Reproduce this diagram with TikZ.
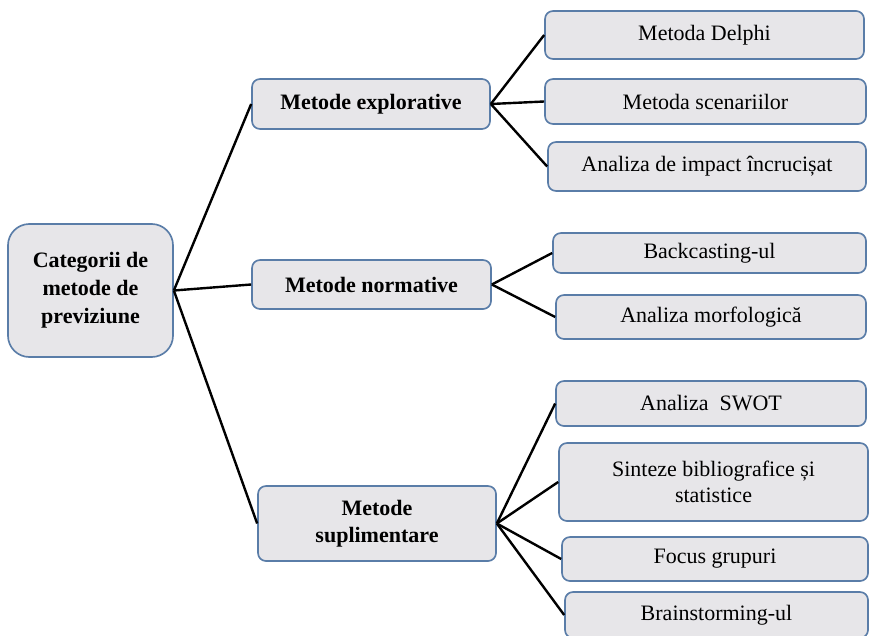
\documentclass[tikz,border=0pt]{standalone}
\usepackage{fontspec}
\setmainfont{Liberation Serif}
\definecolor{boxfill}{HTML}{E7E6E9}
\definecolor{boxline}{HTML}{5A7DA8}

\begin{document}
\begin{tikzpicture}[x=0.75pt, y=-0.75pt,
   box/.style={draw=boxline, fill=boxfill, line width=1.25pt, rounded corners=6pt,
      inner sep=0pt, align=center, font=\fontsize{16.5}{20}\selectfont},
   groupbox/.style={box, font=\fontsize{16.5}{20}\selectfont\bfseries},
   boxsize/.style 2 args={minimum width=#1*0.75pt, minimum height=#2*0.75pt},
   link/.style={line width=1.8pt}]
   \useasboundingbox (0,0) rectangle (870,635);

   % wurzel
   \node [groupbox, boxsize={165}{133}, rounded corners=16pt,
      font=\fontsize{16.5}{21}\selectfont\bfseries] (root) at (90.5, 290.5)
      {Categorii de\\metode de\\previziune};

   % gruppen
   \node [groupbox, boxsize={238}{50}] (explor) at (371, 104) {Metode explorative};
   \node [groupbox, boxsize={239}{49}] (norm) at (371.5, 284.5) {Metode normative};
   \node [groupbox, boxsize={238}{75}] (supl) at (377, 523.5) {Metode\\suplimentare};

   % metoden
   \node [box, boxsize={319}{48}] (delphi) at (704.5, 35) {Metoda Delphi};
   \node [box, boxsize={321}{45}] (scen) at (705.5, 101.5) {Metoda scenariilor};
   \node [box, boxsize={318}{49}] (impact) at (707, 166.5) {Analiza de impact încrucișat};

   \node [box, boxsize={313}{40}] (backc) at (709.5, 253) {Backcasting-ul};
   \node [box, boxsize={310}{44}] (morf) at (711, 317) {Analiza morfologică};

   \node [box, boxsize={310}{45}] (swot) at (711, 403.5) {Analiza\ \ SWOT};
   \node [box, boxsize={309}{78}] (sint) at (713.5, 482) {Sinteze bibliografice și\\statistice};
   \node [box, boxsize={306}{44}] (focus) at (715, 559) {Focus grupuri};
   \node [box, boxsize={303}{46}] (brain) at (716.5, 615) {Brainstorming-ul};

   % linien
   \draw [link] (root.east) -- (explor.west);
   \draw [link] (root.east) -- (norm.west);
   \draw [link] (root.east) -- (supl.west);

   \draw [link] (explor.east) -- (delphi.west);
   \draw [link] (explor.east) -- (scen.west);
   \draw [link] (explor.east) -- (impact.west);

   \draw [link] (norm.east) -- (backc.west);
   \draw [link] (norm.east) -- (morf.west);

   \draw [link] (supl.east) -- (swot.west);
   \draw [link] (supl.east) -- (sint.west);
   \draw [link] (supl.east) -- (focus.west);
   \draw [link] (supl.east) -- (brain.west);
\end{tikzpicture}
\end{document}
